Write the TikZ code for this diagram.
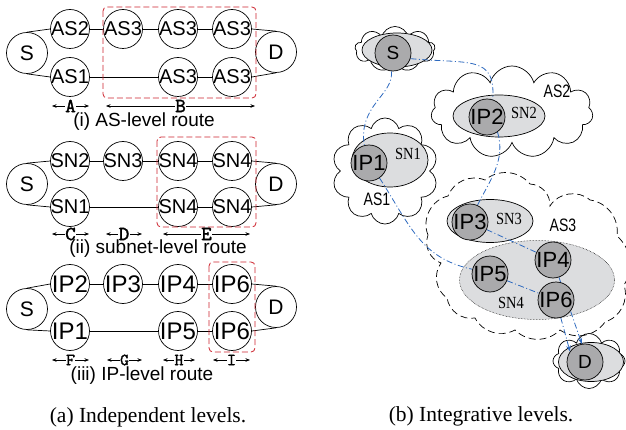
\documentclass[tikz,border=0pt]{standalone}
\usepackage{fontspec}
\setmainfont{Liberation Serif}
\setsansfont{Liberation Sans}
\newfontfamily\asf[FakeStretch=0.78]{Liberation Sans}
\newfontfamily\snf[FakeStretch=0.85]{Liberation Serif}
\newfontfamily\dimf[FakeBold=1.6]{lmmono10-regular.otf}
\usetikzlibrary{shapes.geometric,shapes.symbols,arrows.meta}
\pgfdeclarelayer{bgl}
\pgfdeclarelayer{fgl}
\pgfsetlayers{bgl,main,fgl}
\definecolor{boxred}{RGB}{205,35,45}
\definecolor{routeblue}{RGB}{45,105,190}
\definecolor{midgray}{RGB}{170,170,172}
\definecolor{lightgray}{RGB}{220,221,223}
\newcommand\zw[1]{\makebox[0pt]{#1}}
\newcommand\dimL[1]{{\dimf\fontsize{20}{20}\selectfont #1}}
\newcommand\dimS[1]{{\dimf\fontsize{17}{17}\selectfont #1}}
\begin{document}
\begin{tikzpicture}[x=1pt,y=-1pt,
  lc/.style={circle, draw, line width=0.7pt, minimum size=39pt, inner sep=0pt,
    font=\sffamily\fontsize{20}{20}\selectfont},
  ipc/.style={lc, font=\sffamily\fontsize{24}{24}\selectfont},
  sd/.style={lc, minimum size=41pt, font=\sffamily\fontsize{21}{21}\selectfont},
  lk/.style={line width=0.7pt},
  redbox/.style={draw=boxred, dash pattern=on 6pt off 3pt, rounded corners=4pt, line width=0.8pt},
  dim/.style={<->, >={Stealth[length=4.5pt,width=3.5pt]}, line width=0.5pt},
  dimlab/.style={fill=white, inner sep=0.3pt},
  rtitle/.style={font=\sffamily\fontsize{19}{19}\selectfont, inner sep=0pt},
  captxt/.style={font=\fontsize{21.5}{21.5}\selectfont, inner sep=0pt},
  rc/.style={circle, draw, fill=midgray, line width=0.7pt, minimum size=36pt, inner sep=0pt,
    font=\sffamily\fontsize{22}{22}\selectfont},
  ell/.style={ellipse, draw, fill=lightgray, inner sep=0pt, line width=0.7pt},
  cl/.style={cloud, draw, cloud ignores aspect, inner sep=0pt, line width=0.7pt},
  route/.style={draw=routeblue, line width=0.8pt, dash pattern=on 6pt off 2.5pt on 1pt off 2.5pt},
  rarr/.style={route, -{Stealth[length=6pt,width=4.5pt]}},
  snl/.style={font=\snf\fontsize{17}{17}\selectfont, inner sep=0pt},
  asl/.style={font=\asf\fontsize{18}{18}\selectfont, inner sep=0pt}]
\useasboundingbox (0,0) rectangle (626,430);

% ================= (a) Independent levels =================
% ---- row (i)
\node[sd] (s1) at (27,53) {\zw{S}};
\node[sd] (d1) at (276,52) {\zw{D}};
\node[lc] (a2) at (70,29) {\zw{AS2}};
\node[lc] (a3a) at (123,29) {\zw{AS3}};
\node[lc] (a3b) at (178,29) {\zw{AS3}};
\node[lc] (a3c) at (232,29) {\zw{AS3}};
\node[lc] (a1) at (70,77) {\zw{AS1}};
\node[lc] (a3d) at (178,77) {\zw{AS3}};
\node[lc] (a3e) at (232,77) {\zw{AS3}};
\draw[lk] (s1.north) -- (a2.west);
\draw[lk] (s1.south) -- (a1.west);
\draw[lk] (a2) -- (a3a);
\draw[lk] (a3a) -- (a3b);
\draw[lk] (a3b) -- (a3c);
\draw[lk] (a1) -- (a3d);
\draw[lk] (a3d) -- (a3e);
\draw[lk] (a3c.east) -- (d1.north);
\draw[lk] (a3e.east) -- (d1.south);
\draw[redbox] (103,7) rectangle (256,98);
\coordinate (dA1) at (52,106); \coordinate (dA2) at (89,106);
\coordinate (dB1) at (106,106); \coordinate (dB2) at (255,106);
\draw[dim] (dA1) -- (dA2) node[midway, dimlab] {\dimL{A}};
\draw[dim] (dB1) -- (dB2) node[midway, dimlab] {\dimL{B}};
\node[rtitle] (t1) at (144,122) {(i) AS-level route};

% ---- row (ii)
\node[sd] (s2) at (27,184) {\zw{S}};
\node[sd] (d2) at (276,184) {\zw{D}};
\node[lc] (n2) at (70,161) {\zw{SN2}};
\node[lc] (n3) at (123,161) {\zw{SN3}};
\node[lc] (n4a) at (178,161) {\zw{SN4}};
\node[lc] (n4b) at (232,161) {\zw{SN4}};
\node[lc] (n1) at (70,207) {\zw{SN1}};
\node[lc] (n4c) at (178,207) {\zw{SN4}};
\node[lc] (n4d) at (232,207) {\zw{SN4}};
\draw[lk] (s2.north) -- (n2.west);
\draw[lk] (s2.south) -- (n1.west);
\draw[lk] (n2) -- (n3);
\draw[lk] (n3) -- (n4a);
\draw[lk] (n4a) -- (n4b);
\draw[lk] (n1) -- (n4c);
\draw[lk] (n4c) -- (n4d);
\draw[lk] (n4b.east) -- (d2.north);
\draw[lk] (n4d.east) -- (d2.south);
\draw[redbox] (157,137) rectangle (256,227);
\coordinate (dC1) at (52,234); \coordinate (dC2) at (89,234);
\coordinate (dD1) at (106,234); \coordinate (dD2) at (142,234);
\coordinate (dE1) at (163,234); \coordinate (dE2) at (250,234);
\draw[dim] (dC1) -- (dC2) node[midway, dimlab] {\dimL{C}};
\draw[dim] (dD1) -- (dD2) node[midway, dimlab] {\dimL{D}};
\draw[dim] (dE1) -- (dE2) node[midway, dimlab] {\dimL{E}};
\node[rtitle] (t2) at (158,249) {(ii) subnet-level route};

% ---- row (iii)
\node[sd] (s3) at (27,309) {\zw{S}};
\node[sd] (d3) at (276,307) {\zw{D}};
\node[ipc] (p2) at (70,284) {\zw{IP2}};
\node[ipc] (p3) at (123,284) {\zw{IP3}};
\node[ipc] (p4) at (178,284) {\zw{IP4}};
\node[ipc] (p6a) at (232,284) {\zw{IP6}};
\node[ipc] (p1) at (70,331) {\zw{IP1}};
\node[ipc] (p5) at (178,331) {\zw{IP5}};
\node[ipc] (p6b) at (232,331) {\zw{IP6}};
\draw[lk] (s3.north) -- (p2.west);
\draw[lk] (s3.south) -- (p1.west);
\draw[lk] (p2) -- (p3);
\draw[lk] (p3) -- (p4);
\draw[lk] (p4) -- (p6a);
\draw[lk] (p1) -- (p5);
\draw[lk] (p5) -- (p6b);
\draw[lk] (p6a.east) -- (d3.north);
\draw[lk] (p6b.east) -- (d3.south);
\draw[redbox] (209,262) rectangle (255,352);
\coordinate (dF1) at (52,360); \coordinate (dF2) at (89,360);
\coordinate (dG1) at (107,360); \coordinate (dG2) at (142,360);
\coordinate (dH1) at (163,360); \coordinate (dH2) at (195,360);
\coordinate (dI1) at (213,360); \coordinate (dI2) at (250,360);
\draw[dim] (dF1) -- (dF2) node[midway, dimlab] {\dimS{F}};
\draw[dim] (dG1) -- (dG2) node[midway, dimlab] {\dimS{G}};
\draw[dim] (dH1) -- (dH2) node[midway, dimlab] {\dimS{H}};
\draw[dim] (dI1) -- (dI2) node[midway, dimlab] {\dimS{I}};
\node[rtitle] (t3) at (142,376) {(iii) IP-level route};

\node[captxt] (capa) at (148,417) {(a) Independent levels.};

% ================= (b) Integrative levels =================
\begin{pgfonlayer}{bgl}
  % clouds
  \node[cl, cloud puffs=9, minimum width=80pt, minimum height=45pt] (cS) at (395,49) {};
  \node[cl, cloud puffs=11, minimum width=162pt, minimum height=92pt] (cAS2) at (512,112) {};
  \node[cl, cloud puffs=10, minimum width=106pt, minimum height=106pt] (cAS1) at (385,171) {};
  \node[cl, cloud puffs=8, minimum width=72pt, minimum height=55pt] (cD) at (589,361) {};
  \draw[line width=0.7pt, dash pattern=on 7pt off 4pt]
    (428,235) to[bend left=50] (448,196) to[bend left=45] (485,180)
    to[bend left=45] (530,184) to[bend left=45] (550,206)
    to[bend left=50] (590,200) to[bend left=45] (617,236)
    to[bend left=40] (624,285) to[bend left=45] (605,322)
    to[bend left=45] (560,330) to[bend left=45] (515,330)
    to[bend left=45] (475,318) to[bend left=45] (447,298)
    to[bend left=45] (441,263) to[bend left=45] cycle;
  % subnets
  \node[ell, minimum width=70pt, minimum height=34pt] (eS) at (397,50) {};
  \node[ell, minimum width=92pt, minimum height=42pt] (eSN2) at (499,116) {};
  \node[ell, minimum width=76pt, minimum height=54pt] (eSN1) at (390,160) {};
  \node[ell, minimum width=86pt, minimum height=43pt] (eSN3) at (490,221) {};
  \node[ell, line width=0.5pt, densely dotted, minimum width=155pt, minimum height=79pt] (eSN4) at (537,280) {};
  \node[ell, minimum width=65pt, minimum height=39pt] (eD) at (591,362) {};
\end{pgfonlayer}

\node[snl] (lSN2) at (524,113) {SN2};
\node[snl] (lSN1) at (408,154) {SN1};
\node[snl] (lSN3) at (509,219) {SN3};
\node[snl] (lSN4) at (511,303) {SN4};
\node[asl] (lAS2) at (557,91) {AS2};
\node[asl] (lAS1) at (377,199) {AS1};
\node[asl] (lAS3) at (563,225) {AS3};

\begin{pgfonlayer}{fgl}
  \node[rc] (rS) at (393,53) {\zw{\fontsize{19}{19}\selectfont S}};
  \node[rc] (rIP2) at (487,117) {\zw{IP2}};
  \node[rc] (rIP1) at (369,163) {\zw{IP1}};
  \node[rc] (rIP3) at (470,222) {\zw{IP3}};
  \node[rc] (rIP4) at (553,260) {\zw{IP4}};
  \node[rc] (rIP5) at (490,274) {\zw{IP5}};
  \node[rc] (rIP6) at (556,300) {\zw{IP6}};
  \node[rc] (rD) at (585,362) {\zw{\fontsize{19}{19}\selectfont D}};
\end{pgfonlayer}

% routes
\draw[route] (rS.265) .. controls (394,95) and (358,105) .. (rIP1.105);
\draw[route] (rIP1.-55) .. controls (410,225) and (420,258) .. (rIP5.165);
\draw[route] (rIP5) -- (rIP6);
\draw[rarr] (rIP6.-75) -- (rD.145);
\draw[route] (rS.-18) .. controls (470,64) and (496,55) .. (rIP2.72);
\draw[route] (rIP2.-55) .. controls (506,160) and (490,180) .. (rIP3.66);
\draw[route] (rIP3) -- (rIP4);
\draw[rarr] (rIP4) -- (rD.100);

\node[captxt] (capb) at (481,416) {(b) Integrative levels.};
\end{tikzpicture}
\end{document}
